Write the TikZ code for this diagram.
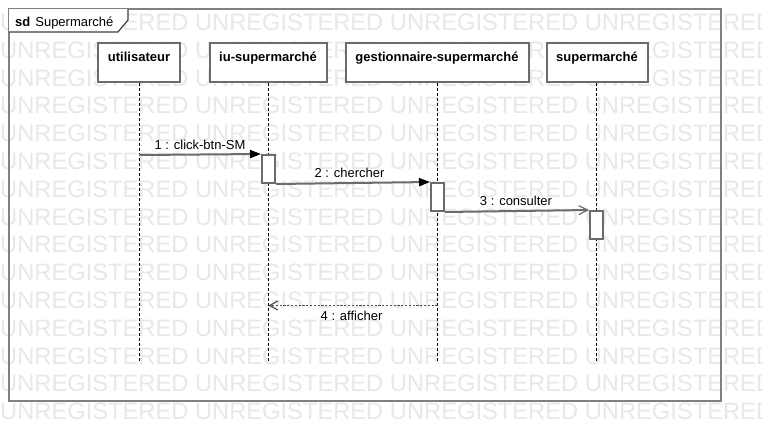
\documentclass[tikz,border=0pt]{standalone}
\usepackage{fontspec}
\setmainfont{Liberation Sans}
\usetikzlibrary{arrows.meta}
\definecolor{wmgray}{gray}{0.91}
\definecolor{linegray}{gray}{0.42}
\definecolor{replygray}{gray}{0.3}
\definecolor{framegray}{gray}{0.5}
\definecolor{tabgray}{gray}{0.25}
\begin{document}
\begin{tikzpicture}[x=1pt,y=-1pt,
  every node/.style={font=\fontsize{13}{15}\selectfont},
  wm/.style={anchor=base west, inner sep=0pt, text=wmgray, font=\fontsize{23.7}{26}\selectfont},
  frameline/.style={draw=framegray, line width=2pt},
  tabline/.style={draw=tabgray, line width=1.2pt},
  lifebox/.style={draw=linegray, line width=2pt, fill=white, inner xsep=0pt, inner ysep=0pt,
    text height=18pt, text depth=21pt, anchor=north, font=\fontsize{13}{15}\selectfont\bfseries},
  lifeline/.style={draw=black, line width=0.8pt, dash pattern=on 3pt off 2pt},
  actbox/.style={draw=linegray, line width=2pt, fill=white, inner sep=0pt, minimum width=13pt, minimum height=28pt},
  msg/.style={draw=linegray, line width=2pt},
  synctip/.style={-{Triangle[length=11pt,width=8pt,fill=black,color=black]}},
  asynctip/.style={-{Straight Barb[length=9pt,width=9pt,line width=1.2pt]}},
  reply/.style={draw=replygray, line width=1.6pt, dash pattern=on 2.2pt off 1.6pt,
    -{Straight Barb[length=8pt,width=9pt,line width=1.2pt,sep=0pt]}},
  lbl/.style={inner sep=0pt, text=black, anchor=base},
]
\useasboundingbox (0,0) rectangle (762,442);
\fill[white] (0,0) rectangle (762,442);
% watermark
\foreach \k in {0,...,14}{
  \node[wm] (wm\k) at (0,{30.5+27.8*\k}) {UNREGISTERED UNREGISTERED UNREGISTERED UNREGISTERED};
}
% frame
\draw[frameline] (9,9) rectangle (721,401);
\coordinate (tabA) at (128,9);
\coordinate (tabB) at (128,20);
\coordinate (tabC) at (118,32);
\coordinate (tabD) at (9,32);
\fill[white] (9,9) -- (tabA) -- (tabB) -- (tabC) -- (tabD) -- cycle;
\draw[tabline] (tabA) -- (tabB) -- (tabC) -- (tabD);
\node[anchor=base west, inner sep=0pt] (title) at (15,26) {\textbf{sd}\hspace{5pt}Supermarché};
% lifeline heads
\node[lifebox, minimum width=82pt]  (u) at (139,42) {utilisateur};
\node[lifebox, minimum width=117pt] (iu) at (268,42) {iu-supermarché};
\node[lifebox, minimum width=183pt] (g) at (437,42) {gestionnaire-supermarché};
\node[lifebox, minimum width=101pt] (s) at (597,42) {supermarché};
% lifelines
\coordinate (uend) at (139,361);
\coordinate (iuend) at (268.5,361);
\coordinate (gend) at (437.5,361);
\coordinate (send) at (596.5,361);
\draw[lifeline] (u.south) -- (uend);
\draw[lifeline] (iu.south -| iuend) -- (iuend);
\draw[lifeline] (g.south -| gend) -- (gend);
\draw[lifeline] (s.south -| send) -- (send);
% activations
\node[actbox] (a1) at (268.5,169) {};
\node[actbox] (a2) at (437.5,197) {};
\node[actbox] (a3) at (596.5,225) {};
% messages
\coordinate (m1s) at (139,155);
\draw[msg, synctip] (m1s) -- (a1.north west);
\draw[msg, synctip] (a1.south east) -- (a2.north west);
\draw[msg, asynctip] (a2.south east) -- (a3.north west);
\coordinate (m4s) at (437.5,305.5);
\coordinate (m4e) at (268.5,305.5);
\draw[reply] (m4s) -- (m4e);
% labels
\node[lbl] (l1) at (200,149.5) {1 : click-btn-SM};
\node[lbl] (l2) at (349.5,177) {2 : chercher};
\node[lbl] (l3) at (516,205) {3 : consulter};
\node[lbl] (l4) at (351.5,320.5) {4 : afficher};
\end{tikzpicture}
\end{document}
